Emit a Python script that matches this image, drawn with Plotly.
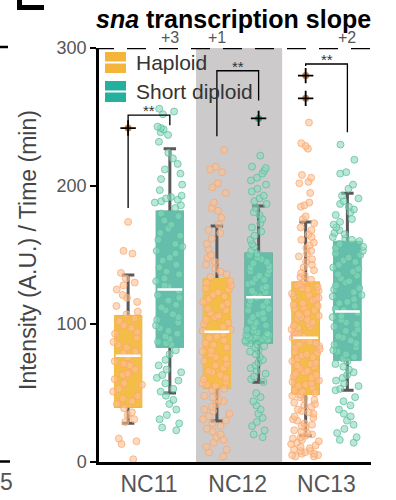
import plotly.graph_objects as go

FONT = "Liberation Sans"

categories = ["NC11", "NC12", "NC13"]
series_names = ["Haploid", "Short diploid"]

# Box statistics (Intensity / Time)
hap_q1 = [40.5, 54.6, 49.8]
hap_med = [77, 94.4, 90]
hap_q3 = [105, 132, 129.5]
hap_lo = [28, 29.7, 19]
hap_hi = [135.5, 171, 174]

dip_q1 = [84, 87, 74.6]
dip_med = [125, 119.3, 109]
dip_q3 = [181, 150.5, 159]
dip_lo = [50, 57.7, 52]
dip_hi = [227, 185.5, 194.7]

hap_outliers = [[242], [], [280, 263.5]]
dip_outliers = [[], [249], []]

# counts of points above 300 (shown as "+n")
hap_above = [0, 1, 0]
dip_above = [3, 0, 2]

# individual points
hap11 = [174, 153, 151, 137, 133, 130, 128, 125, 121, 119, 116, 113, 109, 107, 104, 102, 99, 97,
         94, 93, 90, 87, 85, 83, 80, 79, 76, 73, 71, 70, 67, 64, 63, 60, 57, 56, 53, 51, 48, 46,
         44, 42, 39, 36, 34, 31, 29, 17, 15, 13, 2]
dip11 = [256, 254, 252, 243, 242, 241, 239, 237, 232, 224, 220, 216, 212, 209, 205, 201, 197, 193,
         192, 191, 190, 189, 188, 186, 184, 180, 178, 175, 172, 169, 166, 164, 161, 158, 156, 153,
         151, 148, 146, 143, 141, 138, 136, 133, 131, 128, 127, 124, 121, 119, 117, 114, 112, 110,
         107, 105, 103, 101, 99, 97, 95, 93, 91, 89, 87, 86, 85, 81, 78, 74, 70, 67, 65, 63, 61,
         59, 57, 53, 51, 48, 45, 42, 38, 34, 31, 28, 25, 23]
hap12 = [226, 214, 212, 210, 202, 199, 195, 188, 184, 182, 177, 172, 168, 166, 162, 158, 154, 150,
         148, 145, 143, 140, 138, 136, 134, 131, 130, 128, 126, 125, 123, 121, 120, 118, 116, 115,
         113, 111, 110, 108, 106, 105, 103, 101, 100, 98, 96, 95, 93, 91, 90, 88, 86, 85, 83, 81,
         80, 78, 76, 75, 73, 71, 70, 68, 66, 65, 63, 61, 60, 58, 57, 56, 55, 53, 52, 50, 48, 47,
         45, 44, 42, 40, 38, 37, 35, 33, 31, 30, 28, 26, 24, 22, 20, 18, 16, 14, 11, 9, 7, 4]
dip12 = [222, 214, 213, 211, 209, 206, 204, 201, 198, 196, 193, 191, 189, 187, 184, 181, 179, 176,
         173, 170, 167, 164, 161, 158, 156, 153, 151, 150, 148, 147, 145, 144, 142, 141, 139, 138,
         136, 135, 133, 132, 130, 129, 127, 126, 124, 123, 122, 120, 119, 117, 116, 114, 113, 111,
         110, 108, 107, 105, 104, 102, 101, 99, 98, 96, 95, 94, 92, 91, 90, 89, 88, 93, 92, 91,
         90, 89, 88, 87, 86, 85, 84, 83, 81, 80, 78, 76, 74, 72, 70, 68, 66, 64, 62, 60, 58, 50,
         47, 44, 41, 38, 35, 32, 29, 26, 23, 20, 18]
hap13 = [246, 231, 229, 227, 208, 206, 203, 202, 195, 188, 186, 185, 178, 176, 173, 170, 168, 165,
         163, 161, 159, 157, 155, 153, 151, 149, 147, 145, 143, 141, 139, 137, 135, 134, 132, 131,
         129, 128, 127, 126, 125, 124, 122, 121, 120, 119, 118, 117, 115, 114, 113, 112, 111, 110,
         108, 107, 106, 105, 104, 103, 101, 100, 99, 98, 97, 96, 94, 93, 92, 91, 90, 89, 87, 86,
         85, 84, 83, 82, 80, 79, 78, 77, 76, 75, 73, 72, 71, 70, 69, 68, 66, 65, 64, 63, 62, 61,
         59, 58, 57, 56, 55, 54, 52, 51, 50, 49, 48, 47, 46, 45, 43, 42, 41, 40, 38, 37, 36, 35,
         33, 32, 31, 30, 28, 27, 26, 25, 23, 22, 21, 20, 19, 18, 17, 16, 15, 14, 13, 12, 11, 10,
         9, 8, 8, 7, 6, 6, 5, 5, 4, 4]
dip13 = [230, 219, 210, 209, 201, 198, 193, 191, 189, 187, 185, 183, 181, 179, 176, 174, 172, 170,
         168, 166, 165, 163, 162, 161, 160, 158, 156, 155, 153, 151, 150, 148, 146, 145, 143, 141,
         140, 138, 136, 135, 133, 131, 130, 128, 126, 125, 123, 121, 120, 118, 116, 115, 113, 111,
         110, 108, 106, 105, 103, 101, 100, 98, 96, 95, 93, 91, 90, 88, 86, 85, 83, 81, 80, 78,
         76, 75, 73, 71, 69, 67, 65, 63, 61, 59, 57, 55, 53, 52, 47, 44, 41, 38, 35, 33, 30, 27,
         24, 21, 18, 16, 14]
hap_points = [hap11, hap12, hap13]
dip_points = [dip11, dip12, dip13]

# significance brackets: (top, haploid leg bottom, diploid leg bottom)
sig_top = [251.4, 283.5, 288.4]
sig_hap_bottom = [184, 236, 287]
sig_dip_bottom = [244, 262, 239]
sig_label = ["**", "**", "**"]

# ---- styling ----
HAP_BOX = "rgb(244,189,72)"
DIP_BOX = "rgb(100,190,171)"
HAP_LEG = "#F4B53A"
DIP_LEG = "#25AF9D"
HAP_PT = "rgba(253,192,142,0.6)"
HAP_PT_LINE = "rgba(247,165,112,0.7)"
DIP_PT = "rgba(140,216,190,0.6)"
DIP_PT_LINE = "rgba(88,188,152,0.7)"
WHISK = "#595959"

OFF = 0.235
BW = 0.28

# pixel geometry helpers (plot area: x 99..371, y 48..462)
L, R, T, B = 99, 371, 48, 462
def px(x):
    return (x - L) / (R - L)
def py(y):
    return (B - y) / (B - T)

fig = go.Figure()

groups = [
    (-OFF, hap_q1, hap_med, hap_q3, hap_lo, hap_hi, HAP_BOX, hap_points, HAP_PT, HAP_PT_LINE, hap_outliers, "rgba(190,125,75,0.95)"),
    (OFF, dip_q1, dip_med, dip_q3, dip_lo, dip_hi, DIP_BOX, dip_points, DIP_PT, DIP_PT_LINE, dip_outliers, "rgba(70,150,120,0.95)"),
]

# whiskers (gray box with fences, drawn first)
for off, q1, med, q3, lo, hi, col, pts, pc, plc, outs, oc in groups:
    for i in range(len(categories)):
        fig.add_trace(go.Box(
            x=[i + off], q1=[q1[i]], median=[med[i]], q3=[q3[i]],
            lowerfence=[lo[i]], upperfence=[hi[i]], width=BW,
            fillcolor="rgba(0,0,0,0)", line=dict(color=WHISK, width=3),
            whiskerwidth=0.5, boxpoints=False, showlegend=False, hoverinfo="skip"))

# filled boxes
for off, q1, med, q3, lo, hi, col, pts, pc, plc, outs, oc in groups:
    for i in range(len(categories)):
        fig.add_trace(go.Box(
            x=[i + off], q1=[q1[i]], median=[med[i]], q3=[q3[i]],
            lowerfence=[q1[i]], upperfence=[q3[i]], width=BW,
            fillcolor=col, line=dict(color=col, width=3.5),
            whiskerwidth=0, boxpoints=False, showlegend=False, hoverinfo="skip"))

# points
for off, q1, med, q3, lo, hi, col, pts, pc, plc, outs, oc in groups:
    for i in range(len(categories)):
        fig.add_trace(go.Box(
            x=[i + off] * len(pts[i]), y=pts[i], width=0.36,
            boxpoints="all", jitter=1, pointpos=0,
            fillcolor="rgba(0,0,0,0)", line=dict(color="rgba(0,0,0,0)", width=0),
            marker=dict(size=7, color=pc, line=dict(color=plc, width=1)),
            whiskerwidth=0, showlegend=False, hoverinfo="skip"))

# medians (white)
for off, q1, med, q3, lo, hi, col, pts, pc, plc, outs, oc in groups:
    for i in range(len(categories)):
        fig.add_trace(go.Box(
            x=[i + off], q1=[med[i]], median=[med[i]], q3=[med[i]],
            lowerfence=[med[i]], upperfence=[med[i]], width=BW,
            fillcolor="rgba(0,0,0,0)", line=dict(color="white", width=2.5),
            whiskerwidth=0, boxpoints=False, showlegend=False, hoverinfo="skip"))

# outliers
for off, q1, med, q3, lo, hi, col, pts, pc, plc, outs, oc in groups:
    xs, ys = [], []
    for i in range(len(categories)):
        for v in outs[i]:
            xs.append(i + off)
            ys.append(v)
    fig.add_trace(go.Scatter(x=xs, y=ys, mode="markers",
                             marker=dict(size=7, color=oc), showlegend=False, hoverinfo="skip"))
    fig.add_trace(go.Scatter(x=xs, y=ys, mode="markers",
                             marker=dict(symbol="cross-thin", size=11,
                                         line=dict(color="black", width=1.8)),
                             showlegend=False, hoverinfo="skip"))

# significance brackets
for i in range(len(categories)):
    fig.add_trace(go.Scatter(
        x=[i - OFF, i - OFF, i + OFF, i + OFF],
        y=[sig_hap_bottom[i], sig_top[i], sig_top[i], sig_dip_bottom[i]],
        mode="lines", line=dict(color="black", width=1.3),
        showlegend=False, hoverinfo="skip"))

annotations = []
for i in range(len(categories)):
    annotations.append(dict(x=i, y=sig_top[i] + 3.0, xref="x", yref="y", text=sig_label[i],
                            showarrow=False, yanchor="middle",
                            font=dict(family=FONT, size=15, color="#333")))
    for off, cnts in ((-OFF, hap_above), (OFF, dip_above)):
        if cnts[i]:
            annotations.append(dict(x=i + off, y=py(37), xref="x", yref="paper",
                                    text="+%d" % cnts[i], showarrow=False, yanchor="middle",
                                    font=dict(family=FONT, size=16, color="#555")))

# title
annotations.append(dict(x=px(233.5), y=py(19), xref="paper", yref="paper",
                        text="<b><i>sna</i> transcription slope</b>", showarrow=False,
                        yanchor="middle", xanchor="center",
                        font=dict(family=FONT, size=25, color="black")))
# y axis title
annotations.append(dict(x=px(28), y=py(250), xref="paper", yref="paper",
                        text="Intensity (A.U.) / Time (min)", showarrow=False, textangle=-90,
                        xanchor="center", yanchor="middle",
                        font=dict(family=FONT, size=23, color="#444")))
# legend
for name, yc in ((series_names[0], 62.5), (series_names[1], 91.5)):
    annotations.append(dict(x=px(134), y=py(yc), xref="paper", yref="paper", text=name,
                            showarrow=False, xanchor="left", yanchor="middle",
                            font=dict(family=FONT, size=21, color="#333")))
# fragment of neighbouring panel
annotations.append(dict(x=px(6), y=py(482), xref="paper", yref="paper", text="5",
                        showarrow=False, xanchor="center", yanchor="middle",
                        font=dict(family=FONT, size=23, color="#555")))

shapes = [
    dict(type="rect", xref="x", yref="y", x0=0.53, x1=1.5, y0=0, y1=300,
         fillcolor="#CCCACA", line=dict(width=0), layer="below"),
    dict(type="line", xref="paper", yref="y", x0=px(95), x1=px(373), y0=300, y1=300,
         line=dict(color="black", width=2.5, dash="19px,13px")),
    # legend swatches
    dict(type="rect", xref="paper", yref="paper", x0=px(105), x1=px(126), y0=py(73), y1=py(52),
         fillcolor=HAP_LEG, line=dict(width=0)),
    dict(type="line", xref="paper", yref="paper", x0=px(105), x1=px(126), y0=py(62.5), y1=py(62.5),
         line=dict(color="white", width=2)),
    dict(type="rect", xref="paper", yref="paper", x0=px(105), x1=px(126), y0=py(102), y1=py(81),
         fillcolor=DIP_LEG, line=dict(width=0)),
    dict(type="line", xref="paper", yref="paper", x0=px(105), x1=px(126), y0=py(91.5), y1=py(91.5),
         line=dict(color="white", width=2)),
    # neighbouring panel fragments
    dict(type="line", xref="paper", yref="paper", x0=px(0), x1=px(8), y0=py(47), y1=py(47),
         line=dict(color="black", width=2.5)),
    dict(type="line", xref="paper", yref="paper", x0=px(0), x1=px(10), y0=py(461.5), y1=py(461.5),
         line=dict(color="black", width=2.5)),
    dict(type="rect", xref="paper", yref="paper", x0=px(17), x1=px(22), y0=py(10), y1=py(-2),
         fillcolor="black", line=dict(width=0)),
    dict(type="rect", xref="paper", yref="paper", x0=px(17), x1=px(44), y0=py(10), y1=py(5),
         fillcolor="black", line=dict(width=0)),
]

fig.update_layout(
    width=396, height=500,
    margin=dict(l=L, r=396 - R, t=T, b=500 - B, autoexpand=False),
    paper_bgcolor="white", plot_bgcolor="white",
    boxmode="overlay", showlegend=False,
    font=dict(family=FONT),
    annotations=annotations, shapes=shapes,
    xaxis=dict(range=[-0.563, 2.501], tickvals=list(range(len(categories))), ticktext=categories,
               showline=True, linecolor="black", linewidth=2.5, ticks="", showgrid=False,
               zeroline=False, automargin=False,
               tickfont=dict(family=FONT, size=23, color="#555")),
    yaxis=dict(range=[0, 300], tickvals=[0, 100, 200, 300], showline=True, linecolor="black",
               linewidth=2.5, ticks="outside", ticklen=6, tickwidth=2, tickcolor="black",
               showgrid=False, zeroline=False, automargin=False,
               tickfont=dict(family=FONT, size=18, color="#555")),
)

fig.write_html("out.html")
